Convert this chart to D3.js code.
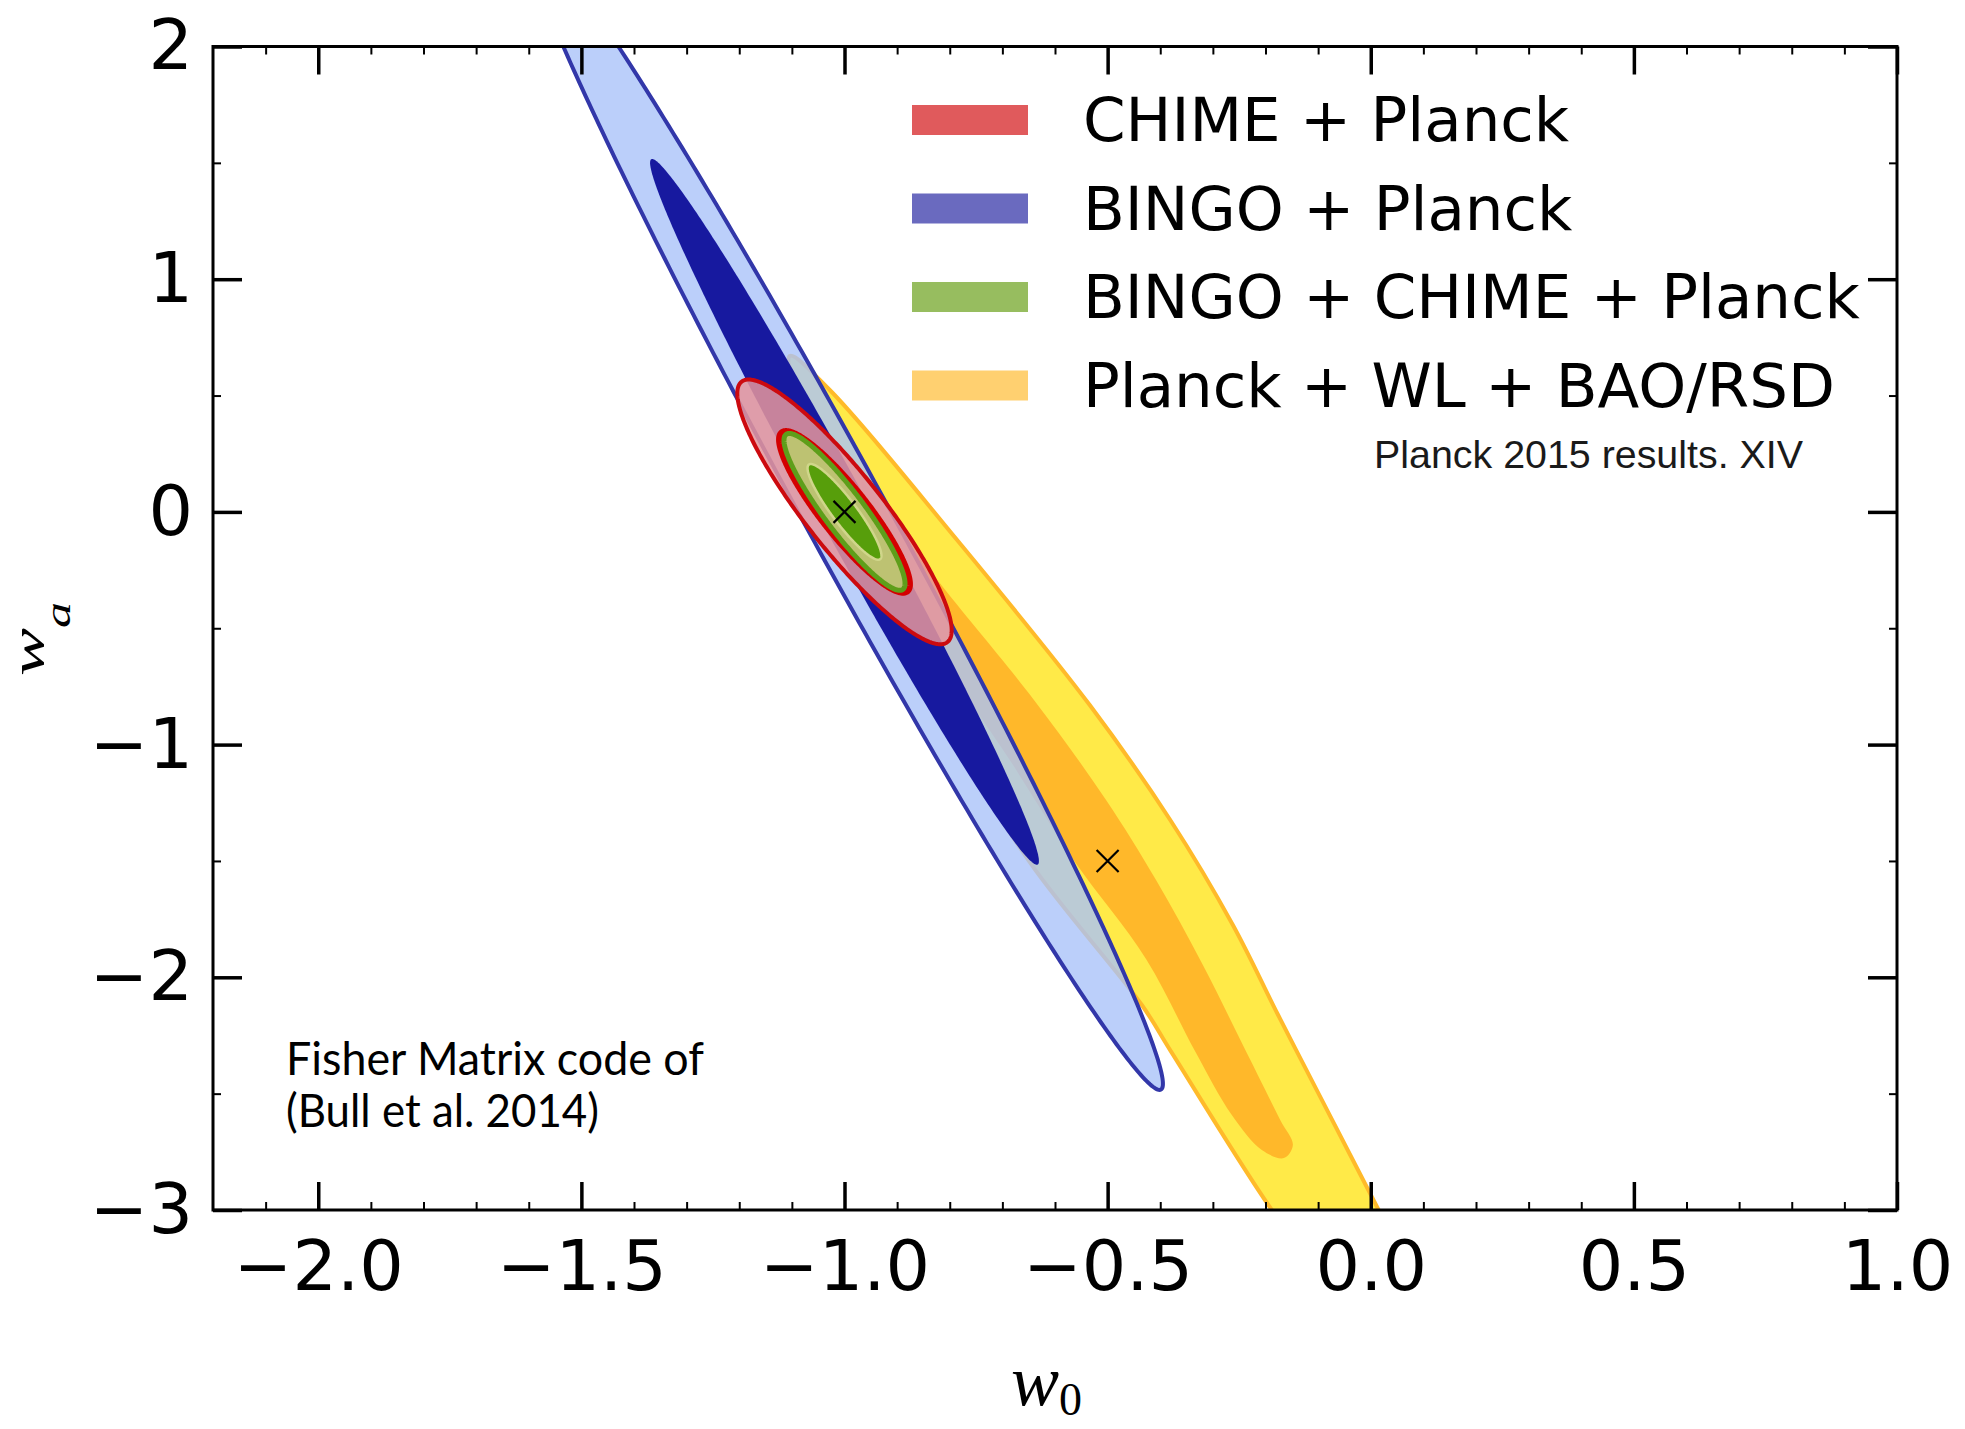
<!DOCTYPE html>
<html>
<head>
<meta charset="utf-8">
<script src="https://cdn.jsdelivr.net/npm/d3@7"></script>
<style>
body { margin: 0; background: #fff; }
.tick text { font-family: "DejaVu Sans", sans-serif; fill: #000; }
</style>
</head>
<body>
<div id="chart"></div>
<script>
// axes
var xDomain = [-2.2, 1.0], yDomain = [-3, 2];
var xMajor = [-2.0, -1.5, -1.0, -0.5, 0.0, 0.5, 1.0];
var yMajor = [-3, -2, -1, 0, 1, 2];
var yMinor = [-2.5, -1.5, -0.5, 0.5, 1.5];

// Fisher forecasts (w0, wa), gaussian: centre, sigma_w0, sigma_wa, correlation
var fisherNames = ["BINGO + Planck", "CHIME + Planck", "BINGO + CHIME + Planck"];
var fisherCenter = [[-1, 0], [-1, 0], [-1, 0]];
var fisherSigmaW0 = [0.2436, 0.082, 0.0463];
var fisherSigmaWa = [1.0, 0.229, 0.1357];
var fisherRho = [-0.9893, -0.8945, -0.9126];

// Planck + WL + BAO/RSD contours, fiducial point
var planckFid = [-0.5, -1.5];
var planck2sigma = [[-1.104, 0.670], [-1.028, 0.524], [-0.786, -0.121], [-0.534, -0.830], [-0.381, -1.324],
  [-0.262, -1.775], [-0.176, -2.162], [-0.093, -2.527], [0.018, -3.013], [0.094, -3.344], [0.065, -3.559],
  [-0.058, -3.387], [-0.188, -3.000], [-0.380, -2.317], [-0.435, -2.119], [-0.648, -1.505], [-0.838, -0.808],
  [-0.990, -0.121], [-1.075, 0.395]];
var planck1sigma = [[-0.967, 0.129], [-0.895, -0.078], [-0.819, -0.306], [-0.640, -0.808], [-0.503, -1.238],
  [-0.408, -1.582], [-0.319, -1.947], [-0.243, -2.291], [-0.172, -2.613], [-0.148, -2.721], [-0.165, -2.777],
  [-0.207, -2.742], [-0.264, -2.592], [-0.334, -2.317], [-0.427, -1.921], [-0.562, -1.505], [-0.686, -1.066],
  [-0.800, -0.679], [-0.895, -0.293], [-0.948, -0.043]];

var legendLabels = ["CHIME + Planck", "BINGO + Planck", "BINGO + CHIME + Planck", "Planck + WL + BAO/RSD"];
var legendColors = ["#e05a5c", "#6a6abf", "#97bd5f", "#ffd070"];

var W = 1965, H = 1429;
var L = 213, R = 1897, T = 46.5, B = 1210;

var svg = d3.select("#chart").append("svg").attr("width", W).attr("height", H);
svg.append("rect").attr("width", W).attr("height", H).attr("fill", "#fff");

var x = d3.scaleLinear().domain(xDomain).range([L, R]);
var y = d3.scaleLinear().domain(yDomain).range([B, T]);

svg.append("clipPath").attr("id", "clip").append("rect")
  .attr("x", L).attr("y", T).attr("width", R - L).attr("height", B - T);

var plot = svg.append("g").attr("clip-path", "url(#clip)");
var line = d3.line().x(d => x(d[0])).y(d => y(d[1]));

// delta chi^2 for 1 and 2 sigma in 2D
var K1 = 2.30, K2 = 6.17;
function ellipse(i, k) {
  var sx = fisherSigmaW0[i], sy = fisherSigmaWa[i], r = fisherRho[i], c = fisherCenter[i];
  var beta = r * sx / sy, w = Math.sqrt(k) * sx * Math.sqrt(1 - r * r), h = Math.sqrt(k) * sy;
  return d3.range(0, 360, 1).map(function(a) {
    var t = a * Math.PI / 180, dy = h * Math.cos(t);
    return [c[0] + beta * dy + w * Math.sin(t), c[1] + dy];
  });
}

// Planck (yellow)
plot.append("path").attr("d", line.curve(d3.curveCatmullRomClosed.alpha(0.5))(planck2sigma))
  .attr("fill", "#ffea48").attr("stroke", "#ffba2a").attr("stroke-width", 4);
plot.append("path").attr("d", line.curve(d3.curveCatmullRomClosed.alpha(0.5))(planck1sigma))
  .attr("fill", "#ffb82a");

line.curve(d3.curveLinearClosed);

// BINGO
plot.append("path").attr("d", line(ellipse(0, K2)))
  .attr("fill", "#aac3f9").attr("fill-opacity", 0.8).attr("stroke", "#3237a9").attr("stroke-width", 4);
plot.append("path").attr("d", line(ellipse(0, K1))).attr("fill", "#17199f");

// CHIME
plot.append("path").attr("d", line(ellipse(1, K2)))
  .attr("fill", "#e4959c").attr("fill-opacity", 0.86).attr("stroke", "#cc0a0f").attr("stroke-width", 4);
plot.append("path").attr("d", line(ellipse(1, K1)))
  .attr("fill", "#d87a80").attr("stroke", "#d40000").attr("stroke-width", 6);

// combined
plot.append("path").attr("d", line(ellipse(2, K2)))
  .attr("fill", "#bdc272").attr("stroke", "#5e9e1a").attr("stroke-width", 5);
plot.append("path").attr("d", line(ellipse(2, K1)))
  .attr("fill", "#579e0b").attr("stroke", "#d0d68a").attr("stroke-width", 2.5);

// fiducial markers
[fisherCenter[0], planckFid].forEach(function(p) {
  var cx = x(p[0]), cy = y(p[1]), s = 11;
  plot.append("path").attr("d", `M${cx - s},${cy - s}L${cx + s},${cy + s}M${cx - s},${cy + s}L${cx + s},${cy - s}`)
    .attr("stroke", "#000").attr("stroke-width", 2.2);
});

// axes, ticks pointing inwards on all sides
var xMinor = d3.range(-21, 10).map(d => d / 10).filter(d => Math.abs(d * 2 - Math.round(d * 2)) > 1e-6);

function styleAxis(g, w) {
  g.select(".domain").remove();
  g.selectAll(".tick line").attr("stroke", "#000").attr("stroke-width", w);
  g.selectAll(".tick text").attr("font-size", 70);
}

svg.append("g").attr("transform", `translate(0,${B})`)
  .call(d3.axisBottom(x).tickValues(xMajor).tickSize(-28).tickPadding(30).tickFormat(d3.format(".1f")))
  .call(styleAxis, 3.5);
svg.append("g").attr("transform", `translate(0,${B})`)
  .call(d3.axisBottom(x).tickValues(xMinor).tickSize(-8).tickFormat(""))
  .call(styleAxis, 2);
svg.append("g").attr("transform", `translate(0,${T})`)
  .call(d3.axisTop(x).tickValues(xMajor).tickSize(-28).tickFormat(""))
  .call(styleAxis, 3.5);
svg.append("g").attr("transform", `translate(0,${T})`)
  .call(d3.axisTop(x).tickValues(xMinor).tickSize(-8).tickFormat(""))
  .call(styleAxis, 2);

svg.append("g").attr("transform", `translate(${L},0)`)
  .call(d3.axisLeft(y).tickValues(yMajor).tickSize(-29).tickPadding(20).tickFormat(d3.format("d")))
  .call(styleAxis, 3.5);
svg.append("g").attr("transform", `translate(${L},0)`)
  .call(d3.axisLeft(y).tickValues(yMinor).tickSize(-8).tickFormat(""))
  .call(styleAxis, 2);
svg.append("g").attr("transform", `translate(${R},0)`)
  .call(d3.axisRight(y).tickValues(yMajor).tickSize(-29).tickFormat(""))
  .call(styleAxis, 3.5);
svg.append("g").attr("transform", `translate(${R},0)`)
  .call(d3.axisRight(y).tickValues(yMinor).tickSize(-8).tickFormat(""))
  .call(styleAxis, 2);

svg.append("rect").attr("x", L).attr("y", T).attr("width", R - L).attr("height", B - T)
  .attr("fill", "none").attr("stroke", "#000").attr("stroke-width", 3);

// axis labels
var xl = svg.append("text").attr("x", 1011).attr("y", 1405)
  .attr("font-family", "Liberation Serif, serif").attr("font-size", 72);
xl.append("tspan").attr("font-style", "italic").text("w");
xl.append("tspan").attr("font-size", 46).attr("dy", 10).text("0");

var yl = svg.append("text").attr("transform", "translate(44,676) scale(0.68,1) rotate(-90)")
  .attr("font-family", "Liberation Serif, serif").attr("font-size", 72);
yl.append("tspan").attr("font-style", "italic").text("w");
yl.append("tspan").attr("font-style", "italic").attr("font-size", 52).attr("dy", 38).text("a");

// legend
var leg = svg.append("g");
legendLabels.forEach(function(lab, i) {
  var cy = 120 + i * 88.5;
  leg.append("rect").attr("x", 912).attr("y", cy - 15).attr("width", 116).attr("height", 30)
    .attr("fill", legendColors[i]);
  leg.append("text").attr("x", 1083).attr("y", cy + 21)
    .attr("font-family", "DejaVu Sans, sans-serif").attr("font-size", 61).text(lab);
});

svg.append("text").attr("x", 1374).attr("y", 468)
  .attr("font-family", "Liberation Sans, sans-serif").attr("font-size", 39).attr("fill", "#1a1a1a")
  .attr("textLength", 429).attr("lengthAdjust", "spacingAndGlyphs")
  .text("Planck 2015 results. XIV");

svg.append("text").attr("x", 286).attr("y", 1075)
  .attr("font-family", "Lato, sans-serif").attr("font-size", 47)
  .attr("textLength", 418).attr("lengthAdjust", "spacingAndGlyphs")
  .text("Fisher Matrix code of");
svg.append("text").attr("x", 286).attr("y", 1127)
  .attr("font-family", "Lato, sans-serif").attr("font-size", 47)
  .attr("textLength", 313).attr("lengthAdjust", "spacingAndGlyphs")
  .text("(Bull et al. 2014)");
</script>
</body>
</html>
